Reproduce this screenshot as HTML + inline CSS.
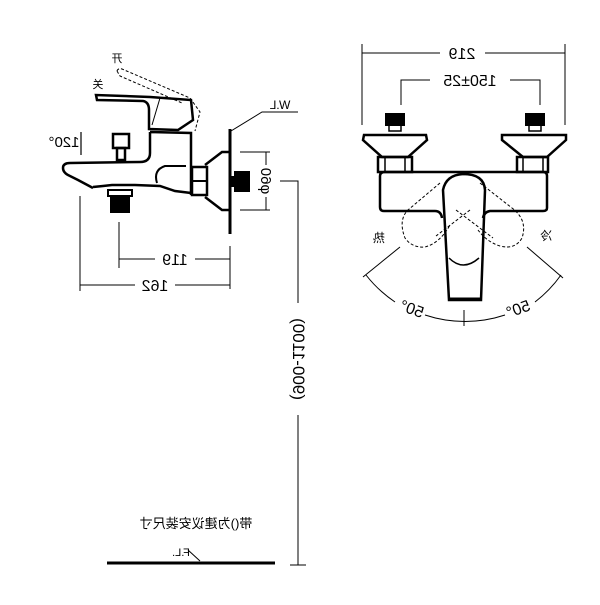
<!DOCTYPE html>
<html><head><meta charset="utf-8"><style>html,body{margin:0;padding:0;background:#fff}</style></head>
<body>
<svg width="600" height="600" viewBox="0 0 600 600" xmlns="http://www.w3.org/2000/svg" font-family="Liberation Sans, Noto Sans CJK SC, sans-serif" fill="none" stroke="#000">
<line x1="230" y1="129" x2="230" y2="234" stroke-width="3"/>
<polyline points="231,131 262,112 298,112" stroke-width="1"/>
<text transform="translate(280,109) scale(-1,1)" text-anchor="middle" font-size="12" fill="#000" stroke="none">W.L</text>
<polyline points="229,152 222,152 205,165" stroke-width="2.5"/>
<polyline points="205,197 222,210 229,210" stroke-width="2.5"/>
<rect x="234" y="171" width="16" height="21" fill="#000" stroke="none"/>
<rect x="231" y="176" width="4" height="11" fill="#000" stroke="none"/>
<rect x="192" y="167" width="15" height="28" stroke-width="2.5"/>
<line x1="192" y1="181" x2="207" y2="181" stroke-width="2"/>
<path d="M150,132 L191,133 L191,195 M150,132 L150,153 Q150,162 140,162 L70,163 Q63,163 63,168 Q63,173 70,176 L78,180 L93,188 M93,187 L103,186 L112,185 L135,185 L160,186 L175,191 L191,193" stroke-width="2.5"/>
<path d="M157,183 Q153,170 165,166 L186,166" stroke-width="2"/>
<rect x="113" y="134" width="16" height="14" stroke-width="2.5"/>
<rect x="117" y="148" width="8" height="12" stroke-width="2.5"/>
<rect x="108" y="190" width="24" height="6" stroke-width="2"/>
<rect x="110" y="196" width="20" height="17" fill="#000" stroke="none"/>
<path d="M96,95 L97,100 L143,101 Q149,102 149,110 L149,129 L178,130 L190,122 L193,120 L191,100 L150,97 Z" stroke-width="2.5"/>
<line x1="160" y1="98" x2="152" y2="125" stroke-width="1"/>
<path d="M117,71 Q118,68 122,69 L190,98 L200,112 L195,131 M117,71 L120,76 L182,103" stroke-width="1" stroke-dasharray="3,2"/>
<text transform="translate(117,62) scale(-1,1)" text-anchor="middle" font-size="11" fill="#000" stroke="none">开</text>
<text transform="translate(98,88) scale(-1,1)" text-anchor="middle" font-size="11" fill="#000" stroke="none">关</text>
<text transform="translate(64,147) scale(-1,1)" text-anchor="middle" font-size="15" fill="#000" stroke="none">120°</text>
<polyline points="81,132 81,155 M82,145 L95,135 M84,150 L95,150" stroke-width="1.2"/>
<line x1="119" y1="222" x2="119" y2="268" stroke-width="1"/>
<line x1="80" y1="196" x2="80" y2="291" stroke-width="1"/>
<line x1="230" y1="246" x2="230" y2="289" stroke-width="1"/>
<line x1="119" y1="259" x2="155" y2="259" stroke-width="1"/>
<line x1="195" y1="259" x2="230" y2="259" stroke-width="1"/>
<text transform="translate(175,265) scale(-1,1)" text-anchor="middle" font-size="16" fill="#000" stroke="none">119</text>
<line x1="80" y1="285" x2="135" y2="285" stroke-width="1"/>
<line x1="175" y1="285" x2="230" y2="285" stroke-width="1"/>
<text transform="translate(155,291) scale(-1,1)" text-anchor="middle" font-size="16" fill="#000" stroke="none">162</text>
<line x1="240" y1="152" x2="270" y2="152" stroke-width="1"/>
<line x1="240" y1="210" x2="270" y2="210" stroke-width="1"/>
<line x1="266" y1="152" x2="266" y2="165" stroke-width="1"/>
<line x1="266" y1="197" x2="266" y2="210" stroke-width="1"/>
<text transform="translate(261,181) rotate(90) scale(-1,1)" text-anchor="middle" font-size="15" fill="#000" stroke="none">φ60</text>
<polyline points="280,181 298,181 298,303" stroke-width="1"/>
<line x1="298" y1="415" x2="298" y2="565" stroke-width="1"/>
<line x1="290" y1="565" x2="306" y2="565" stroke-width="1"/>
<text transform="translate(293,359) rotate(-90) scale(1,-1)" text-anchor="middle" font-size="17" fill="#000" stroke="none">(900-1100)</text>
<line x1="107" y1="563" x2="275" y2="563" stroke-width="3"/>
<text transform="translate(196,528) scale(-1,1)" text-anchor="middle" font-size="13" fill="#000" stroke="none">带()为建议安装尺寸</text>
<text transform="translate(181,556) scale(-1,1)" text-anchor="middle" font-size="11" fill="#000" stroke="none">F.L.</text>
<line x1="188" y1="550" x2="200" y2="561" stroke-width="1"/>
<line x1="362" y1="44" x2="362" y2="125" stroke-width="1"/>
<line x1="565" y1="44" x2="565" y2="125" stroke-width="1"/>
<line x1="362" y1="53" x2="440" y2="53" stroke-width="1"/>
<line x1="485" y1="53" x2="565" y2="53" stroke-width="1"/>
<text transform="translate(462,59) scale(-1,1)" text-anchor="middle" font-size="16" fill="#000" stroke="none">219</text>
<polyline points="401,105 401,80 430,80" stroke-width="1"/>
<polyline points="510,80 540,80 540,105" stroke-width="1"/>
<text transform="translate(470,86) scale(-1,1)" text-anchor="middle" font-size="16" fill="#000" stroke="none">150±25</text>
<rect x="385" y="113" width="20" height="13" fill="#000" stroke="none"/>
<rect x="389" y="125" width="12" height="6" stroke-width="1.5"/>
<rect x="525" y="113" width="20" height="13" fill="#000" stroke="none"/>
<rect x="529" y="125" width="12" height="6" stroke-width="1.5"/>
<path d="M364,135 L426,135 L427,140 L408,157 L382,157 L363,140 Z" stroke-width="2.5"/>
<path d="M502,135 L566,135 L566,140 L547,157 L523,157 L502,140 Z" stroke-width="2.5"/>
<rect x="378" y="157" width="34" height="15" stroke-width="2.5"/>
<rect x="385" y="157" width="20" height="15" stroke-width="1.5"/>
<rect x="517" y="157" width="31" height="15" stroke-width="2.5"/>
<rect x="523" y="157" width="20" height="15" stroke-width="1.5"/>
<path d="M385,172 L543,172 Q547,172 547,176 L547,208 Q547,211 543,211 L490,211 Q484,212 483,218 M442,218 Q441,211 435,211 L384,211 Q380,211 380,207 L380,176 Q380,172 385,172" stroke-width="2.5"/>
<path d="M443,190 Q446,175 463,174 Q484,174 485,190 L481,300 L449,300 Z" stroke-width="2.5"/>
<path d="M449,258 Q463,272 479,258" stroke-width="1.5"/>
<line x1="449" y1="299" x2="481" y2="299" stroke-width="3"/>
<path d="M440,183 L408,210 Q398,220 405,238 Q412,248 425,247 Q440,243 450,225 M456,210 L493,238 M480,183 L512,208 Q528,220 522,238 Q515,250 500,246 Q487,242 478,230 M470,210 L436,236" stroke-width="1" stroke-dasharray="3,2"/>
<text transform="translate(379,242) scale(-1,1)" text-anchor="middle" font-size="12" fill="#000" stroke="none">热</text>
<text transform="translate(546,240) scale(-1,1)" text-anchor="middle" font-size="12" fill="#000" stroke="none">冷</text>
<line x1="400" y1="247" x2="363" y2="277" stroke-width="1"/>
<line x1="527" y1="247" x2="563" y2="278" stroke-width="1"/>
<path d="M366,275 A127,127 0 0 0 395,302" stroke-width="1"/>
<path d="M425,315 A127,127 0 0 0 505,315" stroke-width="1"/>
<path d="M535,302 A127,127 0 0 0 561,275" stroke-width="1"/>
<line x1="464" y1="310" x2="464" y2="326" stroke-width="1"/>
<text transform="translate(410,314) rotate(20) scale(-1,1)" text-anchor="middle" font-size="16" fill="#000" stroke="none">50°</text>
<text transform="translate(520,314) rotate(-20) scale(-1,1)" text-anchor="middle" font-size="16" fill="#000" stroke="none">50°</text>
</svg>
</body></html>
